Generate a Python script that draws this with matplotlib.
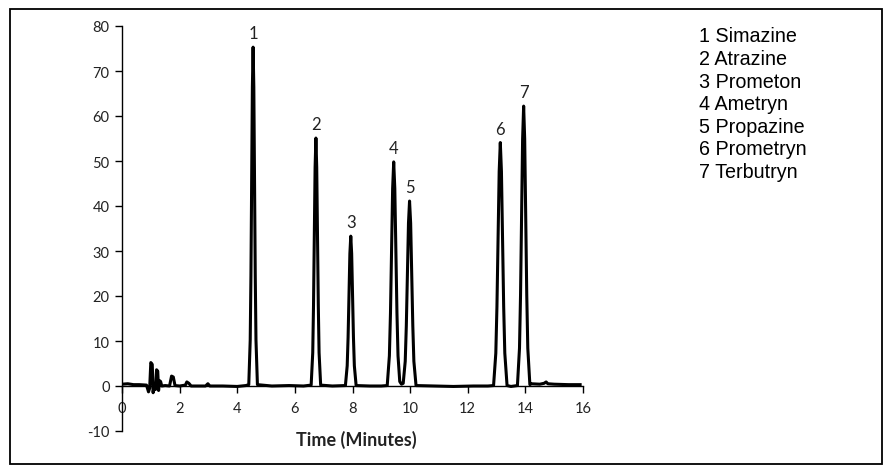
import matplotlib
matplotlib.use("Agg")
import matplotlib.pyplot as plt
from matplotlib.patches import Rectangle

plt.rcParams["axes.unicode_minus"] = False

# ---- data ----
time_min = [
    0.0, 0.2, 0.4, 0.6, 0.85, 0.92, 0.96, 1.0, 1.05, 1.08, 1.12, 1.16, 1.2, 1.24, 1.27,
    1.3, 1.34, 1.38, 1.5, 1.65, 1.72, 1.78, 1.84, 2.0, 2.2, 2.25, 2.32, 2.4, 2.9, 2.98,
    3.05, 3.5, 4.0, 4.3,
    4.40, 4.45, 4.475, 4.50, 4.525, 4.55, 4.575, 4.60, 4.625, 4.65, 4.70,
    5.2, 5.8, 6.3,
    6.565, 6.62, 6.647, 6.675, 6.702, 6.73, 6.758, 6.785, 6.813, 6.84, 6.895,
    7.3,
    7.754, 7.816, 7.847, 7.878, 7.909, 7.94, 7.971, 8.002, 8.033, 8.064, 8.126,
    8.6, 9.0,
    9.205, 9.28, 9.318, 9.355, 9.393, 9.43, 9.468, 9.505, 9.543, 9.58, 9.64, 9.70, 9.76,
    9.83, 9.868, 9.905, 9.943, 9.98, 10.018, 10.055, 10.093, 10.13, 10.205,
    10.8, 11.5, 12.2, 12.7,
    12.896, 12.974, 13.013, 13.052, 13.091, 13.13, 13.169, 13.208, 13.247, 13.286, 13.364,
    13.5, 13.62,
    13.724, 13.796, 13.832, 13.868, 13.904, 13.94, 13.976, 14.012, 14.048, 14.084, 14.156,
    14.2, 14.5, 14.65, 14.72, 14.78, 15.0, 15.5, 15.9,
]
signal = [
    0.4, 0.5, 0.3, 0.3, 0.2, -1.3, -0.5, 5.2, 4.8, -1.5, 0.5, -0.8, 3.6, 3.3, -1.0,
    1.2, 1.0, 0.0, 0.1, 0.0, 2.2, 2.0, 0.1, 0.0, 0.2, 0.9, 0.6, 0.0, 0.0, 0.5,
    0.0, 0.0, -0.1, 0.1,
    0.3, 10.2, 24.5, 45.7, 66.4, 75.3, 66.4, 45.7, 24.5, 10.2, 0.3,
    0.0, 0.1, 0.0,
    0.2, 7.4, 17.9, 33.4, 48.6, 55.1, 48.6, 33.4, 17.9, 7.4, 0.2,
    0.0,
    0.1, 4.5, 10.8, 20.2, 29.4, 33.3, 29.4, 20.2, 10.8, 4.5, 0.1,
    0.0, 0.0,
    0.1, 6.7, 16.2, 30.2, 43.9, 49.8, 43.9, 30.2, 16.2, 6.7, 1.0, 0.4, 0.6,
    5.5, 13.4, 24.9, 36.2, 41.1, 36.2, 24.9, 13.4, 5.5, 0.1,
    0.0, -0.1, 0.0, 0.0,
    0.1, 7.3, 17.6, 32.8, 47.7, 54.1, 47.7, 32.8, 17.6, 7.3, 0.1,
    -0.1, 0.0,
    0.1, 8.4, 20.2, 37.8, 54.9, 62.2, 54.9, 37.8, 20.2, 8.4, 0.3,
    0.5, 0.4, 0.6, 0.9, 0.5, 0.4, 0.3, 0.3,
]

peak_labels = ["1", "2", "3", "4", "5", "6", "7"]
peak_times = [4.55, 6.73, 7.94, 9.43, 9.98, 13.13, 13.94]
peak_heights = [75.3, 55.1, 33.3, 49.8, 41.1, 54.1, 62.2]

compound_names = ["Simazine", "Atrazine", "Prometon", "Ametryn",
                  "Propazine", "Prometryn", "Terbutryn"]

x_ticks = [0, 2, 4, 6, 8, 10, 12, 14, 16]
y_ticks = [-10, 0, 10, 20, 30, 40, 50, 60, 70, 80]
x_label = "Time (Minutes)"

# ---- figure ----
W, H = 892, 477
fig = plt.figure(figsize=(W / 100, H / 100), dpi=100)
fig.patch.set_facecolor("white")

# outer border
fig.patches.append(Rectangle((10 / W, 1 - 465 / H), 872 / W, 455 / H,
                             transform=fig.transFigure, fill=False,
                             edgecolor="black", linewidth=1.3))

ax = fig.add_axes([122 / W, 1 - 432 / H, 461 / W, 405 / H])
ax.plot(time_min, signal, color="black", linewidth=2.2, solid_joinstyle="round")

ax.set_xlim(0, 16)
ax.set_ylim(-10, 80)
ax.set_xticks(x_ticks)
ax.set_yticks(y_ticks)
ax.spines["top"].set_visible(False)
ax.spines["right"].set_visible(False)
ax.spines["bottom"].set_position(("data", 0))
for s in ("left", "bottom"):
    ax.spines[s].set_linewidth(1.0)
ax.tick_params(axis="both", direction="out", length=5, width=1.0,
               labelsize=10.5, pad=4)
ax.tick_params(axis="x", pad=6)
for lab in ax.get_xticklabels() + ax.get_yticklabels():
    lab.set_fontfamily("Lato")
    lab.set_color("#222222")

for lab, t, h in zip(peak_labels, peak_times, peak_heights):
    ax.text(t, h + 1.3, lab, ha="center", va="bottom", fontsize=12,
            fontfamily="Lato", color="#222222")

fig.text(356 / W, 1 - 440 / H, x_label, ha="center", va="center",
         fontsize=13, fontweight="bold", fontfamily="Lato", color="#222222")

for i, (lab, name) in enumerate(zip(peak_labels, compound_names)):
    fig.text(699 / W, 1 - (37 + i * 22.6) / H, f"{lab} {name}",
             ha="left", va="center", fontsize=14.2,
             fontfamily="Liberation Sans", color="black")

fig.savefig("out.png", dpi=100, facecolor="white")
